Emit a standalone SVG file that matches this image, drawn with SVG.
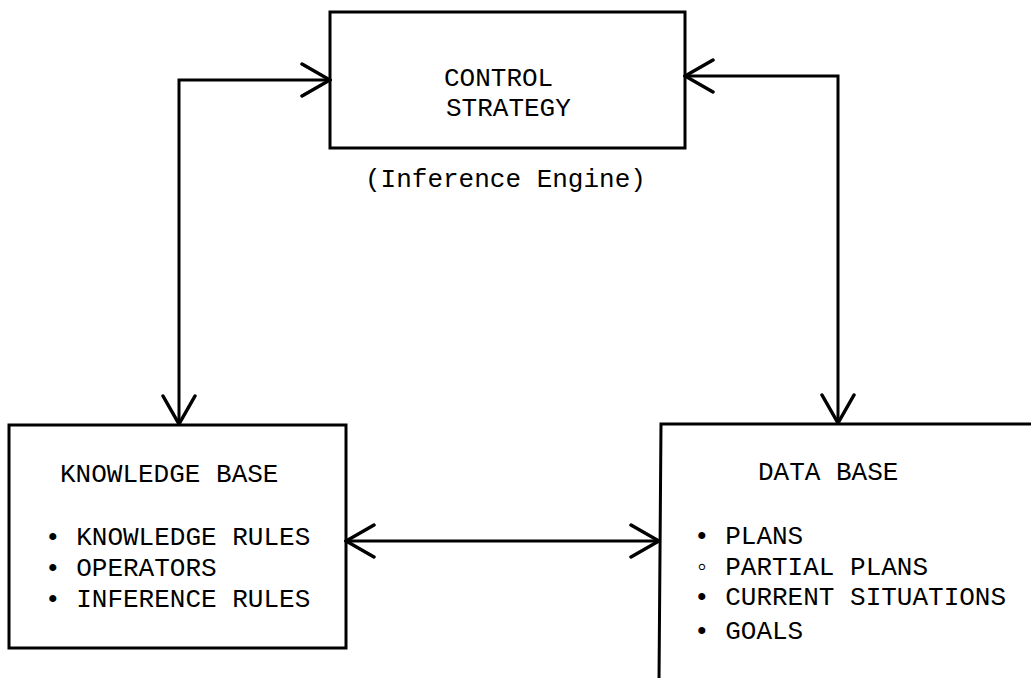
<svg xmlns="http://www.w3.org/2000/svg" width="1031" height="678" viewBox="0 0 1031 678">
  <style>
    .box { fill: none; stroke: #000; stroke-width: 3; }
    .lbl { font-family: "Nimbus Mono PS", "Courier New", "FreeMono", "Liberation Mono", monospace; font-size: 26px; fill: #000; }
    .wire { fill: none; stroke: #000; stroke-width: 3; marker-start: url(#vhead); marker-end: url(#vhead); }
  </style>
  <defs>
    <!-- open V arrowhead, tip at the path end -->
    <marker id="vhead" viewBox="0 -18 32 36" refX="30" refY="0" markerWidth="32" markerHeight="36" markerUnits="userSpaceOnUse" orient="auto-start-reverse">
      <path d="M2,-16 L30,0 L2,16" fill="none" stroke="#000" stroke-width="3.5" stroke-linecap="round"/>
    </marker>
  </defs>

  <rect width="1031" height="678" fill="#fff"/>

  <g id="control-strategy">
    <rect class="box" x="330" y="12" width="355" height="136"/>
    <text class="lbl" x="444" y="86">CONTROL</text>
    <text class="lbl" x="446" y="116">STRATEGY</text>
    <text class="lbl" x="365" y="187">(Inference Engine)</text>
  </g>

  <g id="knowledge-base">
    <rect class="box" x="9" y="425" width="337" height="223"/>
    <text class="lbl" x="60" y="482">KNOWLEDGE BASE</text>
    <text class="lbl" x="45" y="545">• KNOWLEDGE RULES</text>
    <text class="lbl" x="45" y="576">• OPERATORS</text>
    <text class="lbl" x="45" y="607">• INFERENCE RULES</text>
  </g>

  <g id="data-base">
    <path class="box" d="M1034,424 H661 L659,682"/>
    <text class="lbl" x="758" y="480">DATA BASE</text>
    <text class="lbl" x="694" y="544">• PLANS</text>
    <text class="lbl" x="694" y="575">◦ PARTIAL PLANS</text>
    <text class="lbl" x="694" y="605">• CURRENT SITUATIONS</text>
    <text class="lbl" x="694" y="639">• GOALS</text>
  </g>

  <g id="connectors">
    <path class="wire" d="M330,80 H179 V424"/>
    <path class="wire" d="M685,76 H838 V423"/>
    <path class="wire" d="M346,541 H659"/>
  </g>
</svg>
